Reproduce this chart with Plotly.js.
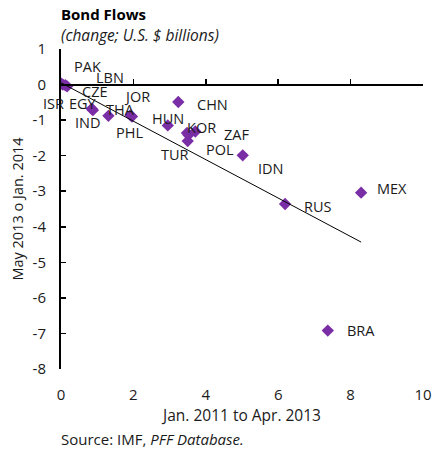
<!DOCTYPE html>
<html>
<head>
<meta charset="utf-8">
<script src="https://cdn.plot.ly/plotly-3.0.1.min.js"></script>
<style>html,body{margin:0;padding:0;background:#fff;}#chart{width:436px;height:449px;}</style>
</head>
<body>
<div id="chart"></div>
<script>
// Data
const countries = ["ISR","PAK","LBN","CZE","EGY","IND","THA","JOR","PHL","HUN","CHN","KOR","TUR","ZAF","POL","IDN","RUS","MEX","BRA"];
const xValues = [0.00, 0.05, 0.12, 0.17, 0.85, 0.88, 1.31, 1.92, 1.96, 2.95, 3.24, 3.71, 3.50, 3.48, 3.52, 5.02, 6.19, 8.29, 7.37];
const yValues = [0.03, 0.00, -0.02, -0.05, -0.68, -0.72, -0.88, -0.86, -0.90, -1.15, -0.49, -1.32, -1.59, -1.36, -1.42, -1.99, -3.36, -3.04, -6.92];
const trendX = [0.00, 8.29];
const trendY = [0.05, -4.43];
const xTicks = [0, 2, 4, 6, 8, 10];
const yTicks = [1, 0, -1, -2, -3, -4, -5, -6, -7, -8];
const yTickText = ["1", "0", "-1", "-2", "-3", "-4", "-5", "-6", "-7", "-8"];

// Label placement offsets in pixels (style, not data)
const labelShiftX = [-8, 25, 45, 28, -9, -5, 12, 6, -2, 0, 34, 6, -13, 50, 32, 28, 33, 31, 33];
const labelShiftY = [-20, 18, 8, -5, 5, -12, 6, 19, -16, 7, -3, 4, -13, -2, -14, -13, -2, 4, 0];

const FONT = "'Open Sans', 'Noto Sans', sans-serif";
const purple = "#7A2EA6";

const traces = [
  {
    type: "scatter", mode: "markers",
    x: xValues, y: yValues, text: countries,
    marker: {symbol: "diamond", size: 9.5, color: purple},
    xaxis: "x", yaxis: "y", hoverinfo: "text+x+y", showlegend: false
  },
  {
    type: "scatter", mode: "lines",
    x: trendX, y: trendY,
    line: {color: "#000", width: 1},
    xaxis: "x2", yaxis: "y", hoverinfo: "skip", showlegend: false
  }
];

const annotations = countries.map((c, i) => ({
  x: xValues[i], y: yValues[i], xref: "x", yref: "y",
  text: c, showarrow: false,
  xshift: labelShiftX[i], yshift: labelShiftY[i],
  font: {family: FONT, size: 14.5, color: "#1a1a1a"}
}));

annotations.push(
  {xref: "paper", yref: "paper", x: 0, y: 1.109, xanchor: "left", yanchor: "middle",
   text: "<b>Bond Flows</b>", showarrow: false, xshift: -2,
   font: {family: FONT, size: 15, color: "#000"}},
  {xref: "paper", yref: "paper", x: 0, y: 1.044, xanchor: "left", yanchor: "middle",
   text: "<i>(change; U.S. $ billions)</i>", showarrow: false, xshift: -2,
   font: {family: FONT, size: 15.5, color: "#1a1a1a"}},
  {xref: "paper", yref: "paper", x: 0, y: -0.219, xanchor: "left", yanchor: "middle",
   text: "Source: IMF, <i>PFF Database.</i>", showarrow: false, xshift: -2,
   font: {family: FONT, size: 15, color: "#1a1a1a"}}
);

const layout = {
  width: 436, height: 449,
  margin: {l: 61, r: 13, t: 49, b: 80, pad: 0},
  paper_bgcolor: "#fff", plot_bgcolor: "#fff",
  font: {family: FONT, size: 15, color: "#1a1a1a"},
  showlegend: false,
  xaxis: {
    range: [0, 10], tickvals: xTicks, showgrid: false, zeroline: false,
    showline: false, ticks: "outside", ticklen: 12, tickcolor: "rgba(0,0,0,0)",
    tickfont: {family: FONT, size: 15, color: "#1a1a1a"},
    title: {text: "Jan. 2011 to Apr. 2013", standoff: 1, font: {family: FONT, size: 15.5, color: "#1a1a1a"}},
    fixedrange: true
  },
  xaxis2: {
    range: [0, 10], overlaying: "x", anchor: "free", position: 8/9, side: "bottom",
    tickvals: xTicks, showticklabels: false, showgrid: false, zeroline: false,
    showline: true, linecolor: "#000", linewidth: 2,
    ticks: "inside", ticklen: 5, tickwidth: 1.5, tickcolor: "#000", fixedrange: true
  },
  yaxis: {
    range: [-8, 1], tickvals: yTicks, ticktext: yTickText, showgrid: false, zeroline: false,
    showline: true, linecolor: "#000", linewidth: 2,
    ticks: "inside", ticklen: 5, tickwidth: 1.5, tickcolor: "#000",
    ticklabelstandoff: 10,
    tickfont: {family: FONT, size: 15, color: "#1a1a1a"},
    title: {text: "May 2013 o Jan. 2014", standoff: 6, font: {family: FONT, size: 14.5, color: "#1a1a1a"}},
    fixedrange: true
  },
  annotations: annotations
};

Plotly.newPlot("chart", traces, layout, {displayModeBar: false, staticPlot: true});
</script>
</body>
</html>
